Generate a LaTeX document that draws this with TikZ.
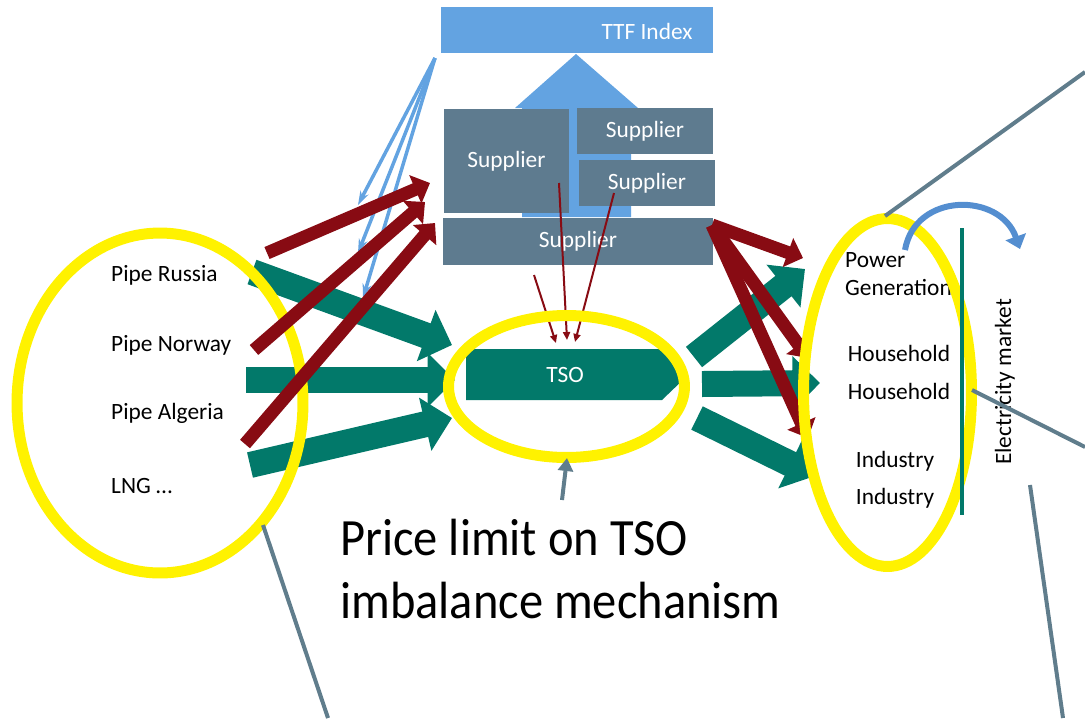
\documentclass[tikz,border=0pt]{standalone}
\usepackage{fontspec}
\setmainfont{Carlito}
\usetikzlibrary{arrows.meta}
\definecolor{ttfblue}{RGB}{99,163,225}
\definecolor{supgray}{RGB}{94,123,143}
\definecolor{flowteal}{RGB}{2,121,106}
\definecolor{moneyred}{RGB}{136,11,19}
\definecolor{callgray}{RGB}{96,125,140}
\definecolor{loopblue}{RGB}{84,142,208}
\def\drawflow{\draw[color=flowteal, line width=0.52cm, -{Triangle[width=1.06cm,length=0.55cm]}]}
\def\drawpay{\draw[color=moneyred, line width=0.26cm, -{Triangle[width=0.6cm,length=0.32cm]}]}
\def\drawbid{\draw[color=moneyred, line width=0.04cm, -{Triangle[width=0.14cm,length=0.16cm]}]}
\def\drawindex{\draw[color=ttfblue, line width=0.07cm, -{Stealth[width=0.18cm,length=0.28cm]}]}
\def\drawcall{\draw[color=callgray, line width=0.08cm]}
\def\drawring{\draw[color=yellow, line width=0.22cm]}
\def\supnode{\node[fill=supgray, text=white, inner sep=0pt]}

\begin{document}
\begin{tikzpicture}[x=0.02cm,y=-0.02cm,font=\fontsize{13.3}{16}\selectfont]
\useasboundingbox (0,0) rectangle (1085,718);
\fill[ttfblue] (522,217) -- (522,108) -- (515,108) -- (576,54) -- (638,108) -- (631,108) -- (631,217) -- cycle;
\node[fill=ttfblue, minimum width=5.44cm, minimum height=0.92cm, inner sep=0pt] (ttf) at (577,30) {};
\node[text=white] (ttftext) at (647,31) {TTF Index};
\supnode[minimum width=2.5cm, minimum height=2.08cm] (supa) at (506.5,161) {Supplier};
\supnode[minimum width=2.72cm, minimum height=0.92cm] (supb) at (645,131) {Supplier};
\supnode[minimum width=2.72cm, minimum height=0.92cm] (supc) at (647,183) {Supplier};
\supnode[minimum width=5.4cm, minimum height=0.94cm] (supd) at (578,241.5) {Supplier};
\fill[flowteal] (466,349) -- (660,349) -- (688,375) -- (662,400) -- (466,400) -- cycle;
\node[text=white] (tso) at (565,375) {TSO};
\node[anchor=west] (russia) at (105,275) {Pipe Russia};
\node[anchor=west] (norway) at (105,345) {Pipe Norway};
\node[anchor=west] (algeria) at (105,413) {Pipe Algeria};
\node[anchor=west] (lng) at (105,486) {LNG …};
\coordinate (ina) at (252,272);
\coordinate (inb) at (246,380);
\coordinate (inc) at (250,465);
\coordinate (tsoa) at (452,345);
\coordinate (tsob) at (455,380);
\coordinate (tsoc) at (452,418);
\coordinate (outa) at (694,357);
\coordinate (outb) at (702,384);
\coordinate (outc) at (697,418);
\coordinate (powin) at (805,269);
\coordinate (housein) at (820,383);
\coordinate (indin) at (815,476);
\drawflow (ina) -- (tsoa);
\drawflow (inb) -- (tsob);
\drawflow (inc) -- (tsoc);
\drawflow (outa) -- (powin);
\drawflow (outb) -- (housein);
\drawflow (outc) -- (indin);
\drawring (160,403) ellipse (2.86cm and 3.4cm);
\coordinate (idx) at (435,58);
\drawindex (idx) -- (358,205);
\drawindex (idx) -- (358,253);
\drawindex (idx) -- (363,298);
\coordinate (paya) at (267,253);
\coordinate (payb) at (254,350);
\coordinate (payc) at (245,444);
\coordinate (sela) at (430,183);
\coordinate (selb) at (425,202);
\coordinate (selc) at (435,223);
\drawpay (paya) -- (sela);
\drawpay (payb) -- (selb);
\drawpay (payc) -- (selc);
\coordinate (sold) at (712,225);
\drawpay (sold) -- (803,258);
\drawpay (sold) -- (808,358);
\drawpay (sold) -- (808,438);
\drawbid (559,183) -- (567,340);
\drawbid (614,193) -- (575,342);
\drawbid (534,275) -- (556,343);
\node[anchor=west, align=left] (power) at (839,274) {Power\\Generation};
\node (housea) at (899,353) {Household};
\node (houseb) at (899,391) {Household};
\node (inda) at (895,461) {Industry};
\node (indb) at (895,498) {Industry};
\node[rotate=90] (elmarket) at (1005,382) {Electricity market};
\drawring (566.5,386.5) ellipse (2.36cm and 1.42cm);
\drawring (887.5,392.5) ellipse (1.68cm and 3.48cm);
\draw[flowteal, line width=0.08cm] (962,228) -- (962,515);
\draw[loopblue, line width=0.12cm, -{Triangle[width=0.42cm,length=0.26cm]}] (905,250) .. controls (915,192) and (1000,192) .. (1020,249);
\node[anchor=west, align=left, font=\fontsize{27.6}{33}\selectfont, yscale=1.08] (pricenote) at (334,569) {Price limit on TSO\\imbalance mechanism};
\draw[callgray, line width=0.08cm, -{Triangle[width=0.3cm,length=0.26cm]}] (562,500) -- (567,458);
\drawcall (885,216) -- (1085,72);
\drawcall (972,390) -- (1085,447);
\drawcall (1030,485) -- (1063,718);
\drawcall (263,525) -- (328,718);
\end{tikzpicture}
\end{document}
